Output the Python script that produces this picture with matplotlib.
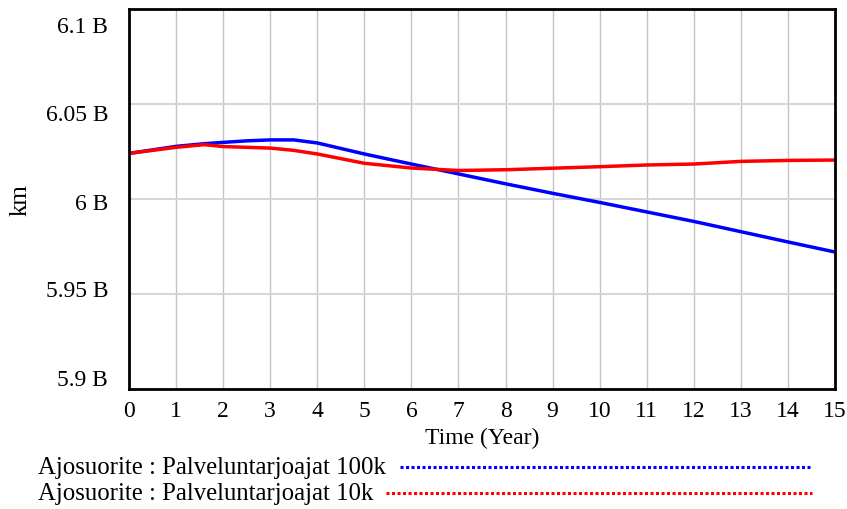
import matplotlib
matplotlib.use("Agg")
import matplotlib.pyplot as plt
import matplotlib.transforms as mtransforms
from matplotlib.lines import Line2D

# Data
years = [0, 1, 1.6, 2, 2.5, 3, 3.5, 4, 5, 6, 7, 8, 9, 10, 11, 12, 13, 14, 15]
blue_100k = [6.0240, 6.0277, 6.0291, 6.0298, 6.0306, 6.0311, 6.0311, 6.0295, 6.0237,
             6.0184, 6.0132, 6.0080, 6.0030, 5.9982, 5.9932, 5.9882, 5.9828, 5.9774, 5.9721]
red_10k = [6.0240, 6.0272, 6.0286, 6.0276, 6.0272, 6.0268, 6.0256, 6.0237, 6.0188,
           6.0163, 6.0150, 6.0154, 6.0162, 6.0170, 6.0179, 6.0184, 6.0198, 6.0203, 6.0205]
labels = ["Ajosuorite : Palveluntarjoajat 100k", "Ajosuorite : Palveluntarjoajat 10k"]
yticks = [5.9, 5.95, 6.0, 6.05, 6.1]
yticklabels = ["5.9 B", "5.95 B", "6 B", "6.05 B", "6.1 B"]
xticks = list(range(0, 16))

plt.rcParams['font.family'] = ['Liberation Serif', 'DejaVu Serif']
FS = 17

fig = plt.figure(figsize=(8.47, 5.10), dpi=100)
ax = fig.add_axes([129/847, 1-390/510, (835-129)/847, 380/510])

ax.plot(years, blue_100k, color='#0000ff', lw=2.5, solid_capstyle='butt')
ax.plot(years, red_10k, color='#ff0000', lw=2.5, solid_capstyle='butt')

ax.set_xlim(0, 15)
ax.set_ylim(5.9, 6.1)
ax.set_xticks(xticks)
ax.set_xticklabels([str(x) for x in xticks])
ax.set_yticks(yticks)
ax.set_yticklabels(yticklabels)
ax.grid(True, axis='x', color='#c4c4c4', lw=1.0)
ax.grid(True, axis='y', color='#d6d6d6', lw=1.5)
ax.set_axisbelow(True)
ax.tick_params(length=0, labelsize=FS)
ax.tick_params(axis='y', pad=15)
ax.tick_params(axis='x', pad=8)
for s in ax.spines.values():
    s.set_color('black')
    s.set_linewidth(2)

# Vensim-style label offsets (pixels, positive = down)
offs = [-12, -6, 2, 8, 15]
for lab, dy in zip(ax.get_yticklabels(), offs):
    lab.set_transform(lab.get_transform() + mtransforms.ScaledTranslation(0, -dy/100, fig.dpi_scale_trans))

ax.set_xlabel("Time (Year)", fontsize=FS, labelpad=4)
ax.set_ylabel("km", fontsize=FS + 1, labelpad=10)

# Legend (Vensim style: label then sample line)
leg_colors = ['#0000ff', '#ff0000']
leg_rows = [468, 494]
leg_starts = [400, 386]
for lab, col, yy, xs in zip(labels, leg_colors, leg_rows, leg_starts):
    fig.text(38/847, 1-yy/510, lab, fontsize=FS + 0.8, va='center', ha='left')
    fig.add_artist(Line2D([xs/847, 812/847], [1-yy/510, 1-yy/510], transform=fig.transFigure,
                          color=col, lw=2.2, linestyle=(0, (1, 0.8))))

fig.savefig("out.png", dpi=100)
